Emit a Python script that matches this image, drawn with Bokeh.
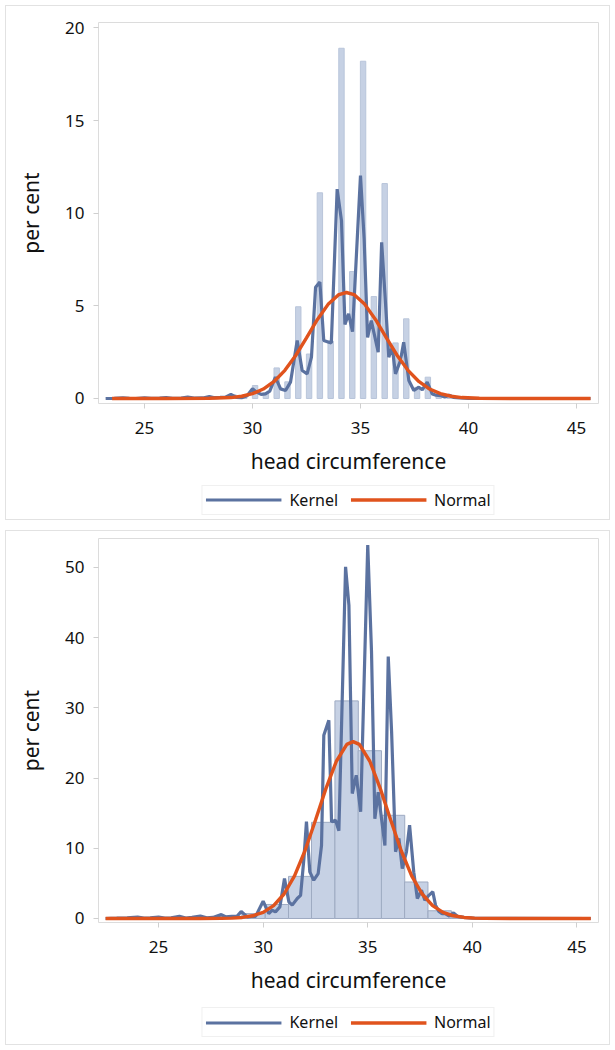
from bokeh.plotting import figure
from bokeh.layouts import column
from bokeh.models import Legend, LegendItem, Range1d, FixedTicker
from bokeh.embed import file_html
from bokeh.resources import INLINE

# ---------------- data: top panel (narrow bins) ----------------
top_bar_x = [28.12, 29.12, 29.62, 30.12, 30.62, 31.12, 31.62, 32.12, 32.62, 33.12, 33.62,
             34.12, 34.62, 35.12, 35.62, 36.12, 36.62, 37.12, 37.62, 38.12, 38.62, 39.12]
top_bar_y = [0.1, 0.2, 0.05, 0.7, 0.3, 1.65, 0.9, 4.95, 2.4, 11.1, 3.1,
             18.9, 6.85, 18.2, 5.5, 11.6, 3.0, 4.3, 0.6, 1.15, 0.2, 0.2]

top_kernel_x = [23.2, 23.6, 24.0, 24.3, 24.6, 25.0, 25.3, 25.7, 26.0, 26.3, 26.7, 27.0, 27.3,
                27.7, 28.0, 28.2, 28.5, 28.75, 29.0, 29.25, 29.5, 29.75, 30.0, 30.2, 30.4,
                30.6, 30.8, 31.06, 31.3, 31.53, 31.76, 32.07, 32.3, 32.53, 32.73, 32.92,
                33.12, 33.3, 33.53, 33.65, 33.92, 34.12, 34.28, 34.45, 34.63, 35.0, 35.17,
                35.33, 35.5, 35.82, 35.98, 36.14, 36.31, 36.47, 36.62, 36.85, 37.0, 37.24,
                37.47, 37.7, 37.86, 38.09, 38.32, 38.5, 38.7, 38.9, 39.1, 39.3, 39.6, 40.0,
                41.0, 45.65]
top_kernel_y = [0.0, 0.01, 0.04, 0.01, 0.0, 0.04, 0.01, 0.02, 0.05, 0.01, 0.02, 0.07, 0.02,
                0.03, 0.11, 0.05, 0.06, 0.07, 0.22, 0.06, 0.04, 0.15, 0.52, 0.34, 0.22,
                0.25, 0.4, 1.15, 0.52, 0.43, 0.88, 3.13, 1.51, 1.33, 2.23, 6.0,
                6.28, 3.13, 3.04, 3.0, 11.3, 9.6, 4.0, 4.57, 3.6, 12.03, 8.6,
                3.3, 4.2, 2.5, 8.43, 5.5, 2.23, 2.77, 1.33, 2.05, 3.04, 0.97,
                0.43, 0.61, 0.47, 0.88, 0.25, 0.18, 0.16, 0.08, 0.18, 0.06, 0.03, 0.01,
                0.0, 0.0]

top_normal_x = [23.5, 26.0, 28.0, 29.0, 29.5, 30.0, 30.5, 31.0, 31.5, 32.0, 32.5, 33.0,
                33.5, 34.0, 34.35, 34.7, 35.2, 35.7, 36.2, 36.7, 37.2, 37.7, 38.2, 38.7,
                39.2, 39.7, 40.5, 42.0, 45.65]
top_normal_y = [0.0, 0.0, 0.01, 0.05, 0.12, 0.26, 0.51, 0.92, 1.52, 2.32, 3.27, 4.25,
                5.08, 5.61, 5.72, 5.61, 5.08, 4.25, 3.27, 2.32, 1.52, 0.92, 0.51, 0.26,
                0.12, 0.05, 0.01, 0.0, 0.0]

# ---------------- data: bottom panel (wide bins) ----------------
bot_bar_x = [28.42, 29.54, 30.66, 31.77, 32.87, 33.99, 35.1, 36.21, 37.32, 38.44, 39.55]
bot_bar_y = [0.3, 0.7, 2.0, 6.0, 13.7, 31.0, 23.9, 14.7, 5.2, 1.1, 0.2]
bot_bar_w = 1.117

bot_kernel_x = [22.47, 23.0, 23.5, 24.0, 24.3, 24.6, 25.0, 25.3, 25.6, 26.0, 26.3, 26.6,
                27.0, 27.3, 27.6, 28.0, 28.2, 28.5, 28.75, 28.95, 29.24, 29.45, 29.64,
                30.0, 30.27, 30.43, 30.59, 30.8, 31.02, 31.23, 31.39, 31.63, 31.79, 31.95,
                32.07, 32.23, 32.42, 32.63, 32.79, 32.9, 33.14, 33.27, 33.46, 33.62, 33.94,
                34.1, 34.26, 34.45, 34.66, 35.0, 35.18, 35.34, 35.5, 35.82, 35.98, 36.14,
                36.33, 36.49, 36.65, 36.85, 37.0, 37.2, 37.37, 37.57, 37.73, 37.92, 38.11,
                38.24, 38.4, 38.55, 38.7, 38.9, 39.1, 39.3, 39.6, 40.0, 41.0, 45.66]
bot_kernel_y = [0.0, 0.05, 0.1, 0.2, 0.05, 0.1, 0.2, 0.05, 0.1, 0.3, 0.05, 0.15,
                0.35, 0.1, 0.15, 0.55, 0.25, 0.3, 0.3, 1.0, 0.23, 0.3, 0.3,
                2.46, 0.7, 1.18, 0.94, 1.65, 5.7, 2.37, 1.9, 2.85, 3.3, 8.55,
                13.8, 6.64, 5.45, 6.4, 10.4, 26.1, 28.25, 13.76, 14.0, 12.5, 50.1,
                44.6, 17.8, 20.4, 15.2, 53.2, 38.0, 14.2, 18.0, 10.4, 37.3, 26.6,
                9.5, 11.4, 7.1, 9.5, 13.3, 6.6, 2.85, 4.03, 2.6, 3.3, 3.8,
                1.9, 1.0, 0.7, 0.7, 0.35, 0.8, 0.3, 0.15, 0.05, 0.02, 0.0]

bot_normal_x = [22.47, 25.0, 27.0, 28.0, 28.5, 29.0, 29.5, 30.0, 30.5, 31.0, 31.5, 32.0,
                32.5, 33.0, 33.5, 34.0, 34.3, 34.6, 35.1, 35.6, 36.1, 36.6, 37.1, 37.6,
                38.1, 38.6, 39.1, 39.6, 40.1, 40.6, 42.0, 45.66]
bot_normal_y = [0.0, 0.0, 0.0, 0.02, 0.06, 0.15, 0.39, 0.88, 1.83, 3.49, 6.07, 9.65,
                14.0, 18.5, 22.4, 24.8, 25.2, 24.8, 22.4, 18.5, 14.0, 9.65, 6.07, 3.49,
                1.83, 0.88, 0.39, 0.15, 0.06, 0.02, 0.0, 0.0]

x_ticks = [25, 30, 35, 40, 45]
top_y_ticks = [0, 5, 10, 15, 20]
bot_y_ticks = [0, 10, 20, 30, 40, 50]
legend_labels = ["Kernel", "Normal"]

KERNEL = "#5b72a0"
NORMAL = "#e0531d"
FONT = "Noto Sans"
K_W = 3.2
N_W = 3.4
PANEL_STYLE = {"outline": "1px solid #e2e2e2", "outline-offset": "-6px"}


def make_panel(bx, by, bw, bar_line, kx, ky, nx, ny, xr, yr, yticks,
               frame_h, top_border, total_h):
    p = figure(frame_width=500, frame_height=frame_h, output_backend="svg",
               toolbar_location=None,
               x_range=Range1d(*xr), y_range=Range1d(*yr),
               min_border_left=98, min_border_right=17, min_border_top=top_border,
               min_border_bottom=total_h - frame_h - top_border)
    p.background_fill_color = "white"
    p.border_fill_color = None
    p.outline_line_color = "#dcdcdc"
    p.grid.grid_line_color = None

    p.vbar(x=bx, top=by, bottom=0, width=bw, fill_color="#c6d1e4",
           line_color=bar_line, line_width=1)
    p.line(kx, ky, line_color=KERNEL, line_width=K_W)
    p.line(nx, ny, line_color=NORMAL, line_width=N_W)

    for ax in (p.xaxis[0], p.yaxis[0]):
        ax.axis_line_color = None
        ax.major_tick_line_color = "#cfcfcf"
        ax.major_tick_in = 0
        ax.major_tick_out = 5
        ax.minor_tick_line_color = None
        ax.major_label_text_font = FONT
        ax.major_label_text_font_size = "17px"
        ax.major_label_text_color = "#111111"
        ax.axis_label_text_font = FONT
        ax.axis_label_text_font_size = "21px"
        ax.axis_label_text_font_style = "normal"
        ax.axis_label_text_color = "#111111"

    p.xaxis.ticker = FixedTicker(ticks=x_ticks)
    p.yaxis.ticker = FixedTicker(ticks=yticks)
    p.xaxis.axis_label = "head circumference"
    p.yaxis.axis_label = "per cent"
    p.xaxis.major_label_standoff = 13
    p.xaxis.axis_label_standoff = 10
    p.yaxis.major_label_standoff = 9
    p.yaxis.axis_label_standoff = 17
    return p


def make_legend_strip(frame_h, bottom_border):
    # a strip under each chart carrying the Kernel / Normal legend
    q = figure(frame_width=500, frame_height=frame_h,
               output_backend="svg", toolbar_location=None,
               x_range=Range1d(0, 1), y_range=Range1d(0, 1),
               x_axis_type=None, y_axis_type=None,
               min_border_left=98, min_border_right=17, min_border_top=0,
               min_border_bottom=bottom_border)
    q.outline_line_color = None
    q.grid.grid_line_color = None
    q.background_fill_color = None
    q.border_fill_color = None
    # legend-only renderers, kept outside the strip's visible range
    k = q.line([2, 3], [2, 3], line_color=KERNEL, line_width=K_W)
    n = q.line([2, 3], [2, 3], line_color=NORMAL, line_width=N_W)
    legend = Legend(items=[LegendItem(label=legend_labels[0], renderers=[k]),
                           LegendItem(label=legend_labels[1], renderers=[n])],
                    orientation="horizontal", location="center")
    legend.glyph_width = 76
    legend.glyph_height = 15
    legend.label_height = 15
    legend.label_standoff = 8
    legend.spacing = 12
    legend.padding = 3
    legend.margin = 0
    legend.label_text_font = FONT
    legend.label_text_font_size = "16px"
    legend.label_text_color = "#111111"
    legend.border_line_color = "#e2e2e2"
    legend.background_fill_color = "white"
    q.add_layout(legend, "center")
    return q


p1 = make_panel(top_bar_x, top_bar_y, 0.25, "#b9c5da",
                top_kernel_x, top_kernel_y, top_normal_x, top_normal_y,
                (22.87, 46.02), (-0.27, 20.29), top_y_ticks, 381, 22, 479)
l1 = make_legend_strip(41, 5)
p2 = make_panel(bot_bar_x, bot_bar_y, bot_bar_w, "#9eabc2",
                bot_kernel_x, bot_kernel_y, bot_normal_x, bot_normal_y,
                (22.13, 46.03), (-0.57, 54.13), bot_y_ticks, 384, 13, 474)
l2 = make_legend_strip(46, 5)

top_block = column(p1, l1, spacing=0, styles=PANEL_STYLE)
bottom_block = column(p2, l2, spacing=0, styles=PANEL_STYLE)
layout = column(top_block, bottom_block, spacing=0)
open("out.html", "w").write(file_html(layout, INLINE))
